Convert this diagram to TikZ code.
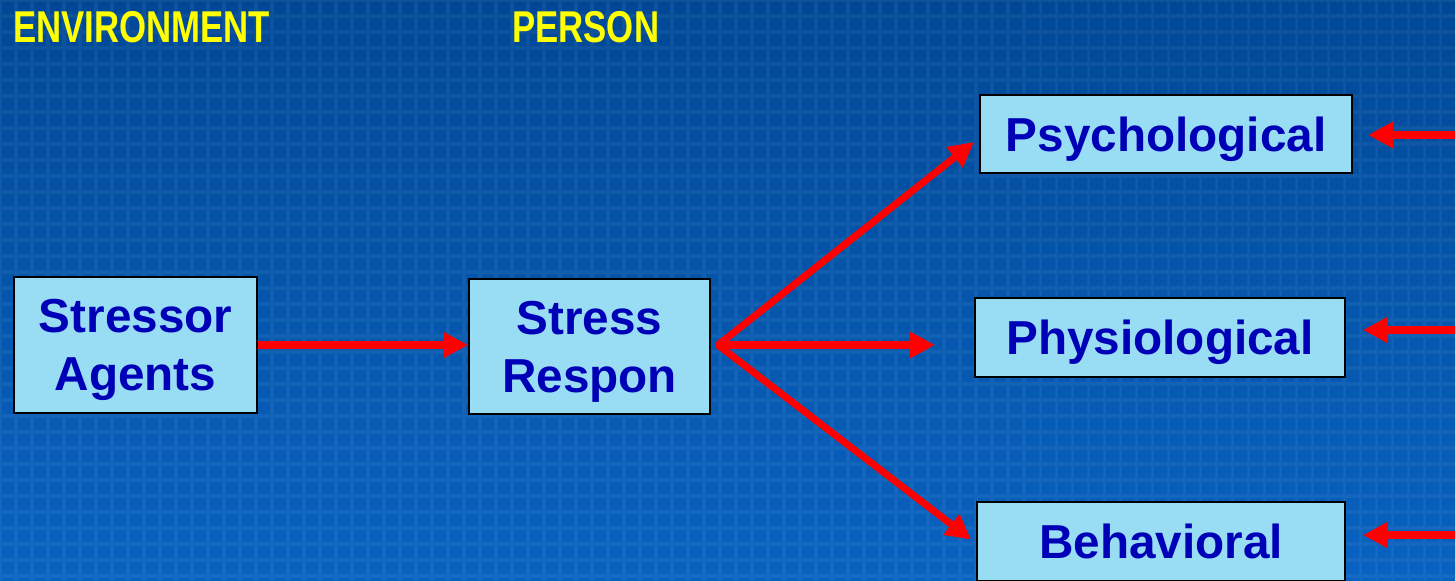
\documentclass[tikz,border=0pt]{standalone}
\usepackage{fontspec}
\setmainfont{Liberation Sans}
\newfontfamily\estreita[FakeStretch=0.78]{Liberation Sans}
\usetikzlibrary{arrows.meta}
\definecolor{fundoTopo}{RGB}{0,72,150}
\definecolor{fundoBase}{RGB}{8,98,192}
\definecolor{caixaAzul}{RGB}{153,221,245}
\definecolor{textoAzul}{RGB}{0,0,182}
\definecolor{tituloAmarelo}{RGB}{255,255,0}
\definecolor{setaVermelha}{RGB}{255,0,0}

\begin{document}
\begin{tikzpicture}[x=0.025cm, y=-0.025cm, %1 unidade = 1 pixel da figura
	caixa/.style={draw=black, line width=1.4pt, fill=caixaAzul, text=textoAzul, font=\bfseries\fontsize{33.9}{41.3}\selectfont, align=center, inner sep=0pt},
	umalinha/.style={text height=31.5pt, text depth=7.25pt},
	duaslinhas/.style={text depth=0pt},
	seta/.style={draw=setaVermelha, line width=5pt, -{Triangle[length=0.62cm,width=0.62cm]}},
	titulo/.style={text=tituloAmarelo, font=\estreita\bfseries\fontsize{31.7}{38}\selectfont, anchor=base west, inner sep=0pt}]
	\useasboundingbox (0,0) rectangle (1455,580); %Tamanho da figura
	\fill[top color=fundoTopo, bottom color=fundoBase] (0,0) rectangle (1455,580); %Fundo
	\draw[white, opacity=0.055, line width=2.5pt, step=0.4cm] (0,0) grid (1455,580); %Textura da grade
		%Titulos
	\node[titulo] (amb) at (13,42) {ENVIRONMENT};
	\node[titulo] (pes) at (512,42) {PERSON};
		%Caixas
	\node[caixa, duaslinhas, minimum width=6.075cm, minimum height=3.4cm] (agentes) at (135.5,345) {Stressor\\Agents};
	\node[caixa, duaslinhas, minimum width=6.025cm, minimum height=3.375cm] (resposta) at (589.5,346.5) {Stress\\Respon};
	\node[caixa, umalinha, minimum width=9.3cm, minimum height=1.95cm] (psi) at (1166,134) {Psychological};
	\node[caixa, umalinha, minimum width=9.25cm, minimum height=1.975cm] (fis) at (1160,337.5) {Physiological};
	\node[caixa, umalinha, minimum width=9.2cm, minimum height=1.975cm] (comp) at (1161,541.5) {Behavioral};
		%Pontos livres
	\coordinate (garfo) at (718,345);
	\coordinate (meio) at (935,345);
	\coordinate (dirPsi) at (1455,135);
	\coordinate (dirFis) at (1455,330);
	\coordinate (dirComp) at (1455,535);
		%Setas
	\draw[seta] (agentes.east |- garfo) -- (resposta.west |- garfo);
	\draw[seta, shorten <=-1pt] (garfo) -- ([shift={(-5,8)}]psi.west);
	\draw[seta] (garfo) -- (meio);
	\draw[seta, shorten <=-1pt] (garfo) -- ([shift={(-5,-2)}]comp.west);
	\draw[seta] (dirPsi) -- ([shift={(15,1)}]psi.east);
	\draw[seta] (dirFis) -- ([shift={(17,-7.5)}]fis.east);
	\draw[seta] (dirComp) -- ([shift={(17,-6.5)}]comp.east);
\end{tikzpicture}
\end{document}
